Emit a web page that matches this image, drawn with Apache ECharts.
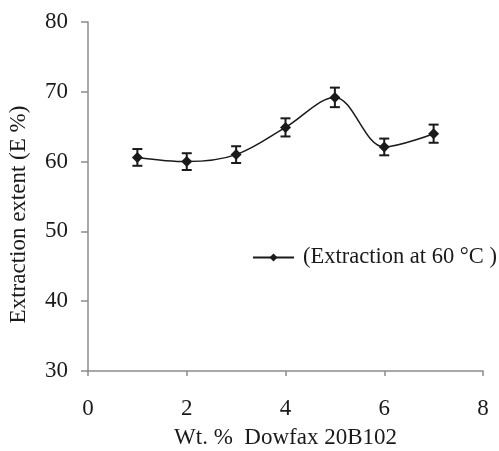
<!DOCTYPE html>
<html>
<head>
<meta charset="utf-8">
<script src="https://cdn.jsdelivr.net/npm/echarts@6/dist/echarts.min.js"></script>
<style>
  html, body { margin: 0; padding: 0; background: #fff; }
  #chart { width: 499px; height: 451px; }
</style>
</head>
<body>
<div id="chart"></div>
<script>
// data
const wtPercent = [1, 2, 3, 4, 5, 6, 7];
const extraction = [60.6, 60.0, 61.0, 64.9, 69.2, 62.1, 64.0];
const errors = [1.2, 1.2, 1.2, 1.3, 1.4, 1.2, 1.3];
const seriesName = '(Extraction at 60 °C )';

const font = 'Liberation Serif';
const ink = '#1a1a1a';
const fs = 23;

const chart = echarts.init(document.getElementById('chart'));

chart.setOption({
  animation: false,
  grid: { left: 88, top: 22, right: 16, bottom: 80, outerBoundsMode: 'none' },
  legend: {
    data: [seriesName],
    left: 247,
    top: 241,
    itemWidth: 41,
    itemHeight: 10,
    textStyle: { fontFamily: font, fontSize: 22.5, color: ink, padding: [0, 0, 0, 4] }
  },
  xAxis: {
    type: 'value',
    min: 0, max: 8, interval: 2,
    name: 'Wt. %  Dowfax 20B102',
    nameLocation: 'middle',
    nameGap: 55,
    nameTextStyle: { fontFamily: font, fontSize: fs, color: ink },
    axisLine: { lineStyle: { color: '#8c8c8c', width: 1.5 } },
    axisTick: { show: true, length: 5, lineStyle: { color: '#8c8c8c', width: 1.5 } },
    axisLabel: { fontFamily: font, fontSize: fs, color: ink, margin: 26 },
    splitLine: { show: false }
  },
  yAxis: {
    type: 'value',
    min: 30, max: 80, interval: 10,
    name: 'Extraction extent (E %)',
    nameLocation: 'middle',
    nameGap: 58,
    nameTextStyle: { fontFamily: font, fontSize: fs, color: ink, padding: [0, 36, 0, 0] },
    axisLine: { show: true, lineStyle: { color: '#8c8c8c', width: 1.5 } },
    axisTick: { show: true, length: 7, lineStyle: { color: '#8c8c8c', width: 1.5 } },
    axisLabel: { fontFamily: font, fontSize: fs, color: ink, margin: 20 },
    splitLine: { show: false }
  },
  series: [
    {
      name: seriesName,
      type: 'line',
      smooth: 0.35,
      data: wtPercent.map((x, i) => [x, extraction[i]]),
      symbol: 'diamond',
      symbolSize: 11,
      lineStyle: { color: ink, width: 1.5 },
      itemStyle: { color: ink },
      z: 3
    },
    {
      name: 'err',
      type: 'custom',
      data: wtPercent.map((x, i) => [x, extraction[i] - errors[i], extraction[i] + errors[i]]),
      renderItem: function (params, api) {
        const lo = api.coord([api.value(0), api.value(1)]);
        const hi = api.coord([api.value(0), api.value(2)]);
        const w = 5;
        const style = { stroke: ink, lineWidth: 2 };
        return {
          type: 'group',
          children: [
            { type: 'line', shape: { x1: lo[0], y1: lo[1], x2: hi[0], y2: hi[1] }, style: style },
            { type: 'line', shape: { x1: lo[0] - w, y1: lo[1], x2: lo[0] + w, y2: lo[1] }, style: style },
            { type: 'line', shape: { x1: hi[0] - w, y1: hi[1], x2: hi[0] + w, y2: hi[1] }, style: style }
          ]
        };
      },
      z: 2
    }
  ]
});
</script>
</body>
</html>
